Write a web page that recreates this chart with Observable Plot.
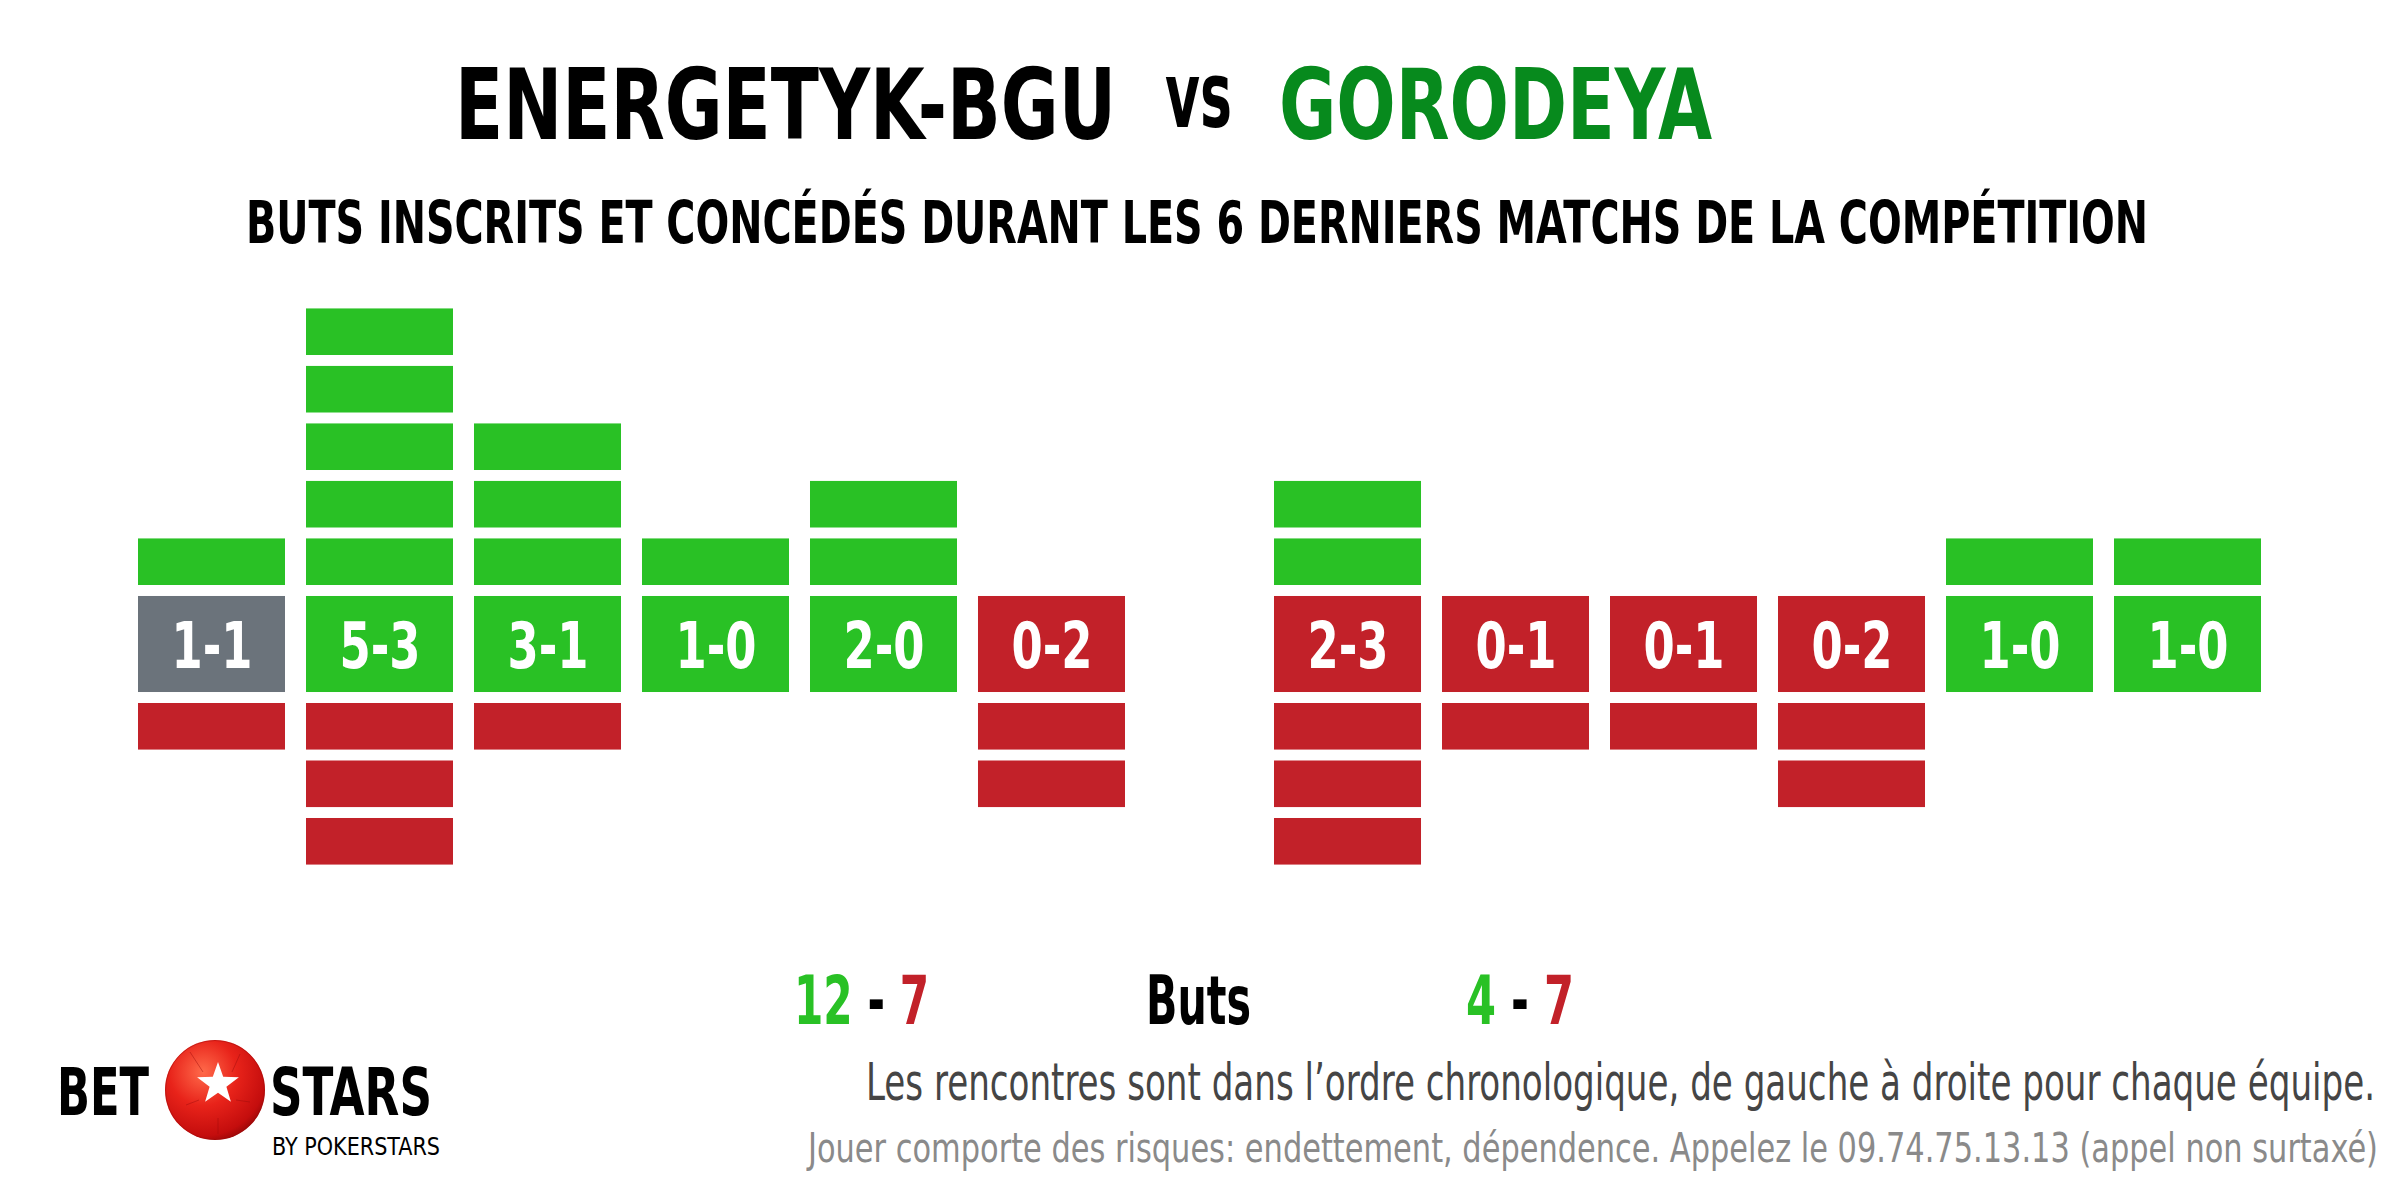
<!DOCTYPE html>
<html><head><meta charset="utf-8">
<script src="https://cdn.jsdelivr.net/npm/d3@7"></script>
<script src="https://cdn.jsdelivr.net/npm/@observablehq/plot@0.6"></script>
<style>
html,body{margin:0;padding:0;background:#fff;}
#page{position:relative;width:2400px;height:1200px;overflow:hidden;background:#fff;
  font-family:"Liberation Sans Narrow","DejaVu Sans Condensed","Liberation Sans",sans-serif;}
.t{position:absolute;white-space:nowrap;line-height:1;transform-origin:0 0;display:inline-block;}
#chart{position:absolute;left:0;top:280px;}
#ballsvg{position:absolute;left:160px;top:1035px;}
</style></head><body>
<div id="page">
  <div id="chart"></div>
  <svg id="ballsvg" width="110" height="110" viewBox="160 1035 110 110">
    <defs>
      <radialGradient id="ball" cx="0.38" cy="0.32" r="0.75">
        <stop offset="0" stop-color="#ff6a4a"/>
        <stop offset="0.45" stop-color="#e8231a"/>
        <stop offset="0.85" stop-color="#c40d0d"/>
        <stop offset="1" stop-color="#8e0606"/>
      </radialGradient>
    </defs>
    <circle cx="215" cy="1090" r="50" fill="url(#ball)"/>
    <g fill="none" stroke="#9c0a0a" stroke-opacity="0.45" stroke-width="1">
      <path d="M190 1052 L203 1072 M240 1054 L232 1072 M250 1102 L236 1100 M186 1105 L199 1100 M218 1118 L218 1134"/>
      <circle cx="215" cy="1090" r="49.5"/>
    </g>
    <polygon fill="#fff" points="218,1062 223.2,1076.8 238.9,1077.2 226.4,1086.7 230.9,1101.8 218,1092.8 205.1,1101.8 209.6,1086.7 197.1,1077.2 212.8,1076.8"/>
  </svg>
</div>
<script>
// ---------- data ----------
const teams = ["ENERGETYK-BGU", "GORODEYA"];
const homeFor      = [1, 5, 3, 1, 2, 0];
const homeAgainst  = [1, 3, 1, 0, 0, 2];
const awayFor      = [2, 0, 0, 0, 1, 1];
const awayAgainst  = [3, 1, 1, 2, 0, 0];
const subtitle = "BUTS INSCRITS ET CONCÉDÉS DURANT LES 6 DERNIERS MATCHS DE LA COMPÉTITION";
const totalsLabel = "Buts";
const note1 = "Les rencontres sont dans l’ordre chronologique, de gauche à droite pour chaque équipe.";
const note2 = "Jouer comporte des risques: endettement, dépendence. Appelez le 09.74.75.13.13 (appel non surtaxé)";

// ---------- styles ----------
const GREEN = "#29c125", RED = "#c22129", GREY = "#6b737b", TITLE_GREEN = "#078a1d";
const FONT = '"Liberation Sans Narrow","DejaVu Sans Condensed","Liberation Sans",sans-serif';

// layout constants (in slot / goal units)
const BOX_W = 0.875, GROUP2 = 6.762, HALF = 0.835, OFF = 1.026, BLK = 0.81;
const LABEL_SQUEEZE = 0.78;

const rows = [];
[[homeFor, homeAgainst], [awayFor, awayAgainst]].forEach(([f, a], t) => {
  f.forEach((g, i) => rows.push({team: teams[t], slot: i + t * GROUP2, gf: g, ga: a[i]}));
});
const blocks = rows.flatMap(r => [
  ...d3.range(r.gf).map(k => ({slot: r.slot, y1: OFF + k, y2: OFF + k + BLK, kind: "for"})),
  ...d3.range(r.ga).map(k => ({slot: r.slot, y1: -(OFF + k), y2: -(OFF + k + BLK), kind: "against"}))
]);
const result = r => r.gf > r.ga ? "win" : r.gf < r.ga ? "loss" : "draw";

const chart = Plot.plot({
  width: 2400, height: 640, margin: 0,
  x: {domain: [0, GROUP2 + 5 + BOX_W], range: [138, 2261], axis: null},
  y: {domain: [-5, 5], range: [651.5, 76.5], axis: null},
  color: {domain: ["for", "against", "win", "draw", "loss"], range: [GREEN, RED, GREEN, GREY, RED]},
  style: {background: "transparent"},
  marks: [
    Plot.rect(blocks, {x1: "slot", x2: d => d.slot + BOX_W, y1: "y1", y2: "y2", fill: "kind"}),
    Plot.rect(rows, {x1: "slot", x2: d => d.slot + BOX_W, y1: () => -HALF, y2: () => HALF, fill: result}),
    Plot.text(rows, {x: d => d.slot + BOX_W / 2, y: () => 0, text: d => `${d.gf}-${d.ga}`,
      fill: "white", fontSize: 64, fontWeight: "bold", fontFamily: FONT, dy: 3})
  ]
});
document.getElementById("chart").appendChild(chart);

// ---------- texts ----------
const page = document.getElementById("page");
function addText(html, {left, right, width, baseline, fs, weight = "bold", color = "#000", lh = 1}) {
  const el = document.createElement("div");
  el.className = "t";
  el.innerHTML = html;
  el.style.fontSize = fs + "px";
  el.style.lineHeight = lh;
  el.style.fontWeight = weight;
  el.style.color = color;
  el.style.top = (baseline - (lh / 2 + 0.3465) * fs) + "px";
  el.style.left = (left != null ? left : right - width) + "px";
  page.appendChild(el);
  const w = el.getBoundingClientRect().width;
  el.style.transform = `scaleX(${width / w})`;
  return el;
}
const sum = a => d3.sum(a);
const totals = (f, a) => `<span style="color:${GREEN}">${sum(f)}</span> - <span style="color:${RED}">${sum(a)}</span>`;

function drawTexts() {
  // condense the score labels inside the boxes
  chart.querySelectorAll('g[aria-label="text"] text').forEach(t => {
    const w = t.getComputedTextLength();
    t.setAttribute("textLength", (w * LABEL_SQUEEZE).toFixed(1));
    t.setAttribute("lengthAdjust", "spacingAndGlyphs");
  });
  addText(teams[0], {left: 455, width: 661, baseline: 139.3, fs: 98});
  addText("vs", {left: 1165, width: 67, baseline: 126.7, fs: 91});
  addText(teams[1], {left: 1279, width: 433, baseline: 139.3, fs: 98, color: TITLE_GREEN});
  addText(subtitle, {left: 246, width: 1902, baseline: 243, fs: 59.4});
  addText(totals(homeFor, homeAgainst), {left: 794, width: 135, baseline: 1025, fs: 67});
  addText(totalsLabel, {left: 1146, width: 105, baseline: 1025, fs: 67});
  addText(totals(awayFor, awayAgainst), {left: 1466, width: 108, baseline: 1025, fs: 67});
  addText(note1, {right: 2375, width: 1509, baseline: 1100, fs: 51, weight: "normal", color: "#454545"});
  addText(note2, {right: 2378, width: 1570, baseline: 1162, fs: 40.5, weight: "normal", color: "#8a8a8a"});
  // logo words
  addText("BET", {left: 57, width: 92, baseline: 1116, fs: 66, lh: 0.74});
  addText("STARS", {left: 270, width: 162, baseline: 1116, fs: 66, lh: 0.74});
  addText("BY POKERSTARS", {left: 272, width: 168, baseline: 1156, fs: 24, weight: "normal", lh: 0.74});
}
if (document.fonts && document.fonts.ready) document.fonts.ready.then(drawTexts); else drawTexts();
</script>
</body></html>
